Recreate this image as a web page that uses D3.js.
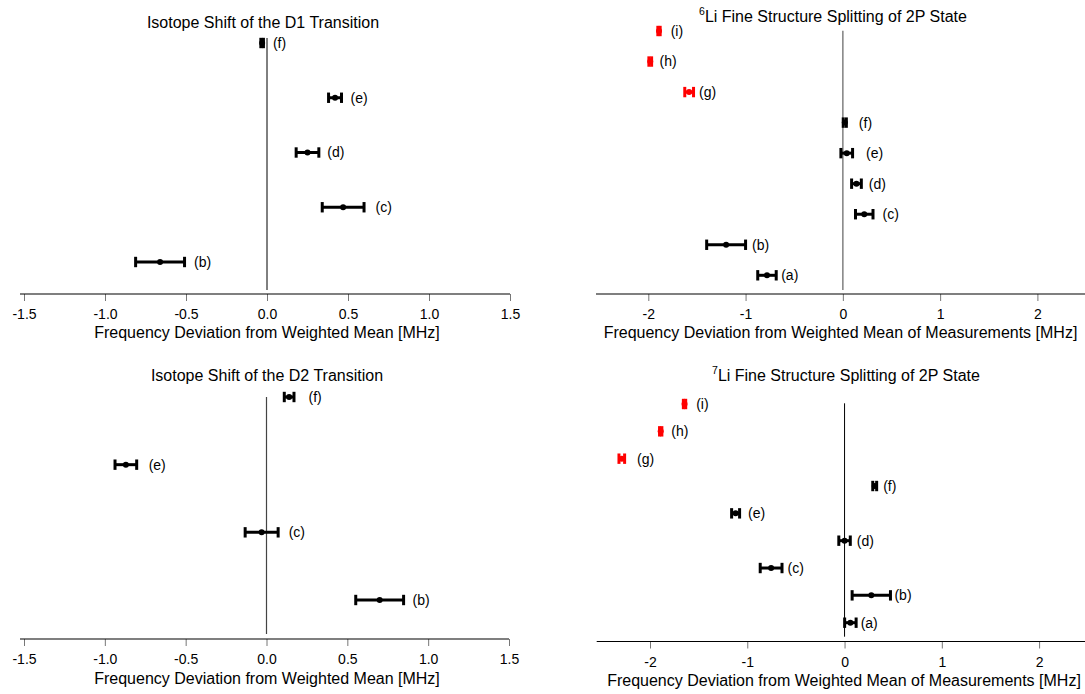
<!DOCTYPE html>
<html><head><meta charset="utf-8">
<script src="https://cdn.jsdelivr.net/npm/d3@7"></script>
<style>body{margin:0;background:#fff} text{font-family:"Liberation Sans",Arial,sans-serif}</style>
</head><body><svg id="c" width="1085" height="694"></svg>
<script>
// ---------------- data ----------------
const d1Labels = ["(b)","(c)","(d)","(e)","(f)"];
const d1Values = [-0.66, 0.47, 0.25, 0.42, -0.03];
const d1Errors = [0.151, 0.129, 0.07, 0.04, 0.008];
const d1Group  = ["in","in","in","in","in"];

const d2Labels = ["(b)","(c)","(e)","(f)"];
const d2Values = [0.70, -0.03, -0.87, 0.14];
const d2Errors = [0.148, 0.102, 0.067, 0.03];
const d2Group  = ["in","in","in","in"];

const li6Labels = ["(a)","(b)","(c)","(d)","(e)","(f)","(g)","(h)","(i)"];
const li6Values = [-0.78, -1.20, 0.22, 0.14, 0.04, 0.02, -1.58, -1.98, -1.89];
const li6Errors = [0.095, 0.20, 0.09, 0.05, 0.06, 0.016, 0.045, 0.014, 0.012];
const li6Group  = ["in","in","in","in","in","in","out","out","out"];

const li7Labels = ["(a)","(b)","(c)","(d)","(e)","(f)","(g)","(h)","(i)"];
const li7Values = [0.06, 0.275, -0.755, 0.0, -1.12, 0.31, -2.29, -1.89, -1.645];
const li7Errors = [0.059, 0.197, 0.112, 0.059, 0.041, 0.02, 0.029, 0.012, 0.012];
const li7Group  = ["in","in","in","in","in","in","out","out","out"];

const isoTicks = [-1.5, -1.0, -0.5, 0.0, 0.5, 1.0, 1.5];
const liTicks  = [-2, -1, 0, 1, 2];

const titles = {
  d1: "Isotope Shift of the D1 Transition",
  d2: "Isotope Shift of the D2 Transition",
  li6: ["6", "Li Fine Structure Splitting of 2P State"],
  li7: ["7", "Li Fine Structure Splitting of 2P State"]
};
const isoXTitle = "Frequency Deviation from Weighted Mean [MHz]";
const liXTitle  = "Frequency Deviation from Weighted Mean of Measurements [MHz]";

// ---------------- layout ----------------
const color = d3.scaleOrdinal().domain(["in","out"]).range(["#000000","#ff0000"]);
const svg = d3.select("#c");

const panels = [
  {labels:d1Labels, values:d1Values, errors:d1Errors, group:d1Group, ticks:isoTicks, fmt:d=>d.toFixed(1),
   title:titles.d1, xTitle:isoXTitle,
   xDom:[-1.5,1.5], xRange:[24,510], axisX:[20,510], axisY:294,
   yRange:[262,43], line:[290,38], lineColor:"#000", lineW:1,
   titlePos:[263,28], xTitlePos:[267,338], gaps:[8,10,7,7.5,8]},
  {labels:d2Labels, values:d2Values, errors:d2Errors, group:d2Group, ticks:isoTicks, fmt:d=>d.toFixed(1),
   title:titles.d2, xTitle:isoXTitle,
   xDom:[-1.5,1.5], xRange:[24,509], axisX:[20,509], axisY:639,
   yRange:[600,397], line:[634,397], lineColor:"#444", lineW:1.2,
   titlePos:[267,381], xTitlePos:[267,684], gaps:[7.5,9,10.5,13]},
  {labels:li6Labels, values:li6Values, errors:li6Errors, group:li6Group, ticks:liTicks, fmt:d=>String(d),
   title:titles.li6, xTitle:liXTitle,
   xDom:[-2,2], xRange:[648.3,1037.4], axisX:[596,1085], axisY:294,
   yRange:[275.3,31], line:[290,30.7], lineColor:"#888", lineW:1.6,
   titlePos:[833,22], xTitlePos:[840.5,338], gaps:[3.5,5,8,6,12,11,4,6.5,9]},
  {labels:li7Labels, values:li7Values, errors:li7Errors, group:li7Group, ticks:liTicks, fmt:d=>String(d),
   title:titles.li7, xTitle:liXTitle,
   xDom:[-2,2], xRange:[650,1039.1], axisX:[596.7,1085], axisY:641.5,
   yRange:[622.7,404], line:[636.7,403.3], lineColor:"#000", lineW:1,
   titlePos:[846,381], xTitlePos:[844,686], gaps:[3,2.5,4,5,7,5,11,8,9]}
];

panels.forEach(p => {
  const n = p.labels.length;
  const x = d3.scaleLinear().domain(p.xDom).range(p.xRange);
  const y = d3.scalePoint().domain(p.labels).range(p.yRange);
  const g = svg.append("g");

  // title
  const t = g.append("text").attr("x", p.titlePos[0]).attr("y", p.titlePos[1])
    .attr("text-anchor","middle").attr("font-size", 16).attr("fill","#000");
  if (Array.isArray(p.title)) {
    t.append("tspan").attr("font-size", 10.5).attr("dy", -7).text(p.title[0]);
    t.append("tspan").attr("dy", 7).text(p.title[1]);
  } else t.text(p.title);

  // axis
  const ax = g.append("g").attr("transform", `translate(0,${p.axisY})`)
    .call(d3.axisBottom(x).tickValues(p.ticks).tickFormat(p.fmt).tickSize(7).tickPadding(8.5));
  ax.select(".domain").remove();
  ax.selectAll(".tick line").attr("stroke","#777");
  ax.selectAll(".tick text").attr("font-size",14).attr("fill","#000")
    .attr("font-family",'"Liberation Sans",Arial,sans-serif');
  g.append("line").attr("x1",p.axisX[0]).attr("x2",p.axisX[1])
    .attr("y1",p.axisY).attr("y2",p.axisY).attr("stroke","#000").attr("stroke-width",1.2);

  g.append("text").attr("x",p.xTitlePos[0]).attr("y",p.xTitlePos[1])
    .attr("text-anchor","middle").attr("font-size",16).attr("fill","#000").text(p.xTitle);

  // zero line
  g.append("line").attr("x1",x(0)).attr("x2",x(0)).attr("y1",p.line[0]).attr("y2",p.line[1])
    .attr("stroke",p.lineColor).attr("stroke-width",p.lineW);

  // error bars
  const rows = d3.range(n).map(i => ({lab:p.labels[i], v:p.values[i], e:p.errors[i], grp:p.group[i], gap:p.gaps[i]}));
  const m = g.selectAll("g.pt").data(rows).join("g").attr("class","pt");
  m.append("line").attr("x1",d=>x(d.v-d.e)).attr("x2",d=>x(d.v+d.e))
    .attr("y1",d=>y(d.lab)).attr("y2",d=>y(d.lab))
    .attr("stroke",d=>color(d.grp)).attr("stroke-width",3);
  [-1,1].forEach(s => {
    m.append("line").attr("x1",d=>x(d.v+s*d.e)).attr("x2",d=>x(d.v+s*d.e))
      .attr("y1",d=>y(d.lab)-5.2).attr("y2",d=>y(d.lab)+5.2)
      .attr("stroke",d=>color(d.grp)).attr("stroke-width",3);
  });
  m.append("circle").attr("cx",d=>x(d.v)).attr("cy",d=>y(d.lab)).attr("r",3)
    .attr("fill",d=>color(d.grp));
  m.append("text").attr("x",d=>x(d.v+d.e)+1.5+d.gap).attr("y",d=>y(d.lab))
    .attr("dy","0.35em").attr("font-size",14).attr("fill","#000").text(d=>d.lab);
});
</script></body></html>
